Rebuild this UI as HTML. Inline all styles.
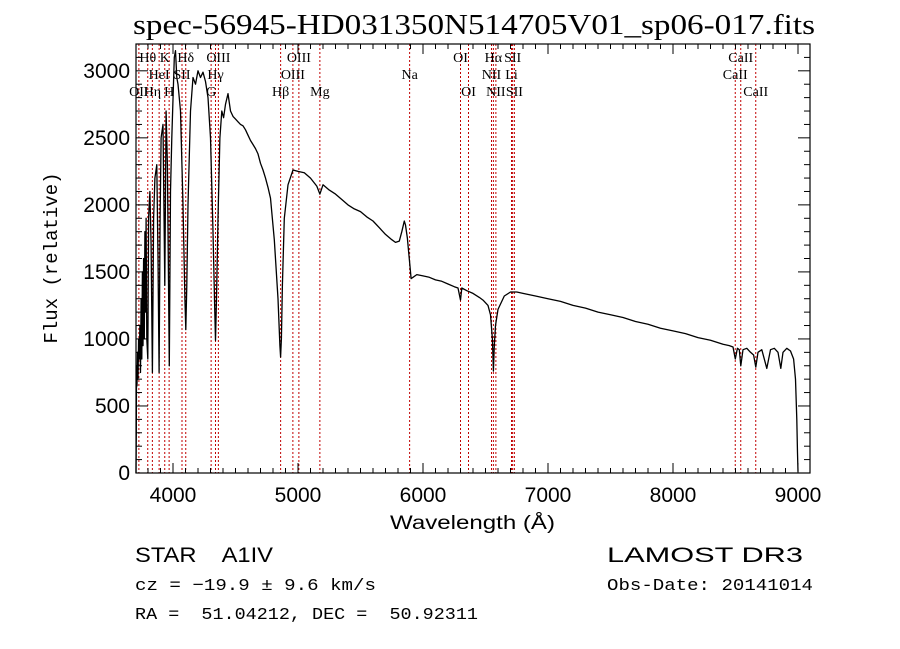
<!DOCTYPE html>
<html><head><meta charset="utf-8"><style>
body{margin:0;background:#fff;}
svg{display:block;}
text{font-family:"Liberation Sans",sans-serif;fill:#000;}
.ser{font-family:"Liberation Serif",serif;}
</style></head><body>
<svg id="chart" width="900" height="649" viewBox="0 0 900 649" xmlns="http://www.w3.org/2000/svg">
<rect width="900" height="649" fill="#fff"/>
<text class="ser" x="133" y="34" font-size="28" textLength="682" lengthAdjust="spacingAndGlyphs">spec-56945-HD031350N514705V01_sp06-017.fits</text>
<g id="lines"></g>
<g id="labels"></g>
<g id="spec"></g>
<g id="axes"></g>
<text x="390" y="529" font-size="19" textLength="165" lengthAdjust="spacingAndGlyphs" font-family="Liberation Mono">Wavelength (Å)</text>
<text transform="translate(57,258) rotate(-90)" font-size="19" text-anchor="middle" style="font-family:'Liberation Mono',monospace">Flux (relative)</text>
<text x="135" y="562" font-size="21" textLength="138" lengthAdjust="spacingAndGlyphs" xml:space="preserve">STAR    A1IV</text>
<text x="607" y="562" font-size="21" textLength="196" lengthAdjust="spacingAndGlyphs">LAMOST DR3</text>
<text x="135" y="590" font-size="17" textLength="241" lengthAdjust="spacingAndGlyphs" style="font-family:'Liberation Mono',monospace">cz = −19.9 ± 9.6 km/s</text>
<text x="607" y="590" font-size="17" textLength="206" lengthAdjust="spacingAndGlyphs" style="font-family:'Liberation Mono',monospace">Obs-Date: 20141014</text>
<text x="135" y="619" font-size="17" textLength="343" lengthAdjust="spacingAndGlyphs" xml:space="preserve" style="font-family:'Liberation Mono',monospace">RA =  51.04212, DEC =  50.92311</text>
</svg>
<script>
const wavelengths=[3704,3706,3708,3712,3716,3720,3725,3730,3735,3740,3745,3750,3755,3760,3765,3770,3775,3780,3785,3790,3798,3805,3815,3825,3835,3845,3855,3870,3880,3889,3897,3905,3920,3934,3945,3955,3970,3980,3990,4010,4020,4030,4040,4060,4080,4095,4102,4110,4120,4140,4160,4180,4200,4220,4240,4260,4280,4300,4320,4334,4340,4348,4360,4375,4390,4405,4420,4440,4460,4480,4500,4520,4540,4560,4580,4600,4620,4640,4660,4680,4700,4720,4740,4760,4780,4810,4840,4855,4861,4867,4875,4890,4920,4960,5000,5050,5100,5150,5175,5200,5250,5300,5350,5400,5450,5500,5550,5600,5650,5700,5750,5780,5810,5830,5850,5860,5875,5888,5895,5905,5920,5950,6000,6050,6100,6150,6200,6250,6280,6300,6310,6350,6400,6450,6480,6520,6540,6555,6563,6570,6580,6600,6650,6700,6750,6800,6900,7000,7100,7200,7300,7400,7500,7600,7700,7800,7900,8000,8100,8200,8300,8400,8450,8480,8498,8515,8530,8542,8560,8590,8620,8645,8662,8680,8710,8750,8780,8810,8840,8862,8880,8910,8940,8965,8980,8990,8996,9000];
const fluxValues=[0,300,800,650,900,700,1000,850,1100,750,1300,850,1500,950,1600,1000,1800,1200,1900,1000,850,1900,2100,1700,750,1900,2200,2300,1600,750,1900,2500,2600,1400,2700,2300,800,2100,2500,3100,3150,2950,2900,2700,2000,1300,1070,1400,2000,2700,2950,2900,3000,2950,2990,2920,2800,2500,1800,1200,990,1300,1900,2500,2700,2650,2750,2830,2700,2660,2640,2620,2600,2590,2560,2520,2480,2450,2420,2380,2310,2260,2200,2130,2050,1740,1300,950,865,1000,1400,1900,2150,2260,2250,2240,2200,2140,2080,2150,2110,2080,2040,2000,1970,1950,1910,1880,1830,1780,1740,1720,1730,1800,1880,1850,1750,1620,1550,1450,1460,1480,1470,1460,1440,1430,1410,1390,1380,1290,1380,1360,1340,1310,1290,1250,1180,1000,760,950,1100,1220,1320,1350,1350,1340,1320,1300,1280,1250,1230,1200,1180,1160,1130,1110,1080,1060,1040,1010,990,960,950,940,850,930,920,800,920,930,900,880,790,900,920,780,920,930,900,780,900,930,910,850,700,400,150,10];
const lineWaves=[3727,3798,3835,3889,3934,3969,4072,4102,4305,4340,4363,4861,4959,5007,5175,5893,6300,6364,6548,6563,6583,6708,6717,6731,8498,8542,8662];
const lineNames=["OII","Hθ","Hη","HeI","K","H","SII","Hδ","G","Hγ","OIII","Hβ","OIII","OIII","Mg","Na","OI","OI","NII","Hα","NII","Li","SII","SII","CaII","CaII","CaII"];
const lineRows=[2,0,2,1,0,2,1,0,2,1,0,2,1,0,2,1,0,2,1,0,2,1,0,2,1,0,2];
const xTicks=[4000,5000,6000,7000,8000,9000];
const yTicks=[0,500,1000,1500,2000,2500,3000];
const L=136,R=810,T=44,B=473,X0=3704,X1=9096,Y0=0,Y1=3200;
const NS='http://www.w3.org/2000/svg';
function xs(w){return L+(w-X0)/(X1-X0)*(R-L);}
function ys(f){return B-(f-Y0)/(Y1-Y0)*(B-T);}
function mk(tag,attrs,parent){const e=document.createElementNS(NS,tag);for(const k in attrs)e.setAttribute(k,attrs[k]);parent.appendChild(e);return e;}
const gL=document.getElementById('lines'),gLab=document.getElementById('labels'),gS=document.getElementById('spec'),gA=document.getElementById('axes');
lineWaves.forEach((w,i)=>{
  const l=mk('line',{x1:xs(w),x2:xs(w),y1:T,y2:B,stroke:'#c00000','stroke-width':1,'stroke-dasharray':'2,2'},gL);
  
  
  const t=mk('text',{x:xs(w),y:62+lineRows[i]*17,'font-size':14,'text-anchor':'middle',class:'ser'},gLab);
  t.textContent=lineNames[i];
  
  
});
let d='';
wavelengths.forEach((w,i)=>{d+=(i?'L':'M')+xs(w).toFixed(1)+','+ys(fluxValues[i]).toFixed(1);});
const p=mk('path',{d:d,fill:'none',stroke:'#000','stroke-width':1.3,'stroke-linejoin':'round'},gS);


const fr=mk('rect',{x:L,y:T,width:R-L,height:B-T,fill:'none',stroke:'#000','stroke-width':1.2},gA);


for(let w=3800;w<=9000;w+=100){const maj=w%1000===0,len=maj?10:5,x=xs(w);
  mk('line',{x1:x,x2:x,y1:B,y2:B-len,stroke:'#000'},gA);mk('line',{x1:x,x2:x,y1:T,y2:T+len,stroke:'#000'},gA);}
for(let f=100;f<=3200;f+=100){const maj=f%500===0,len=maj?12:6,y=ys(f);
  mk('line',{x1:L,x2:L+len,y1:y,y2:y,stroke:'#000'},gA);mk('line',{x1:R,x2:R-len,y1:y,y2:y,stroke:'#000'},gA);}
xTicks.forEach(w=>{const t=mk('text',{x:xs(w),y:502,'font-size':21,'text-anchor':'middle'},gA);t.textContent=w;
  
  });
yTicks.forEach(f=>{const t=mk('text',{x:130,y:ys(f)+7,'font-size':21,'text-anchor':'end'},gA);t.textContent=f;
  
  });
</script>
</body></html>
